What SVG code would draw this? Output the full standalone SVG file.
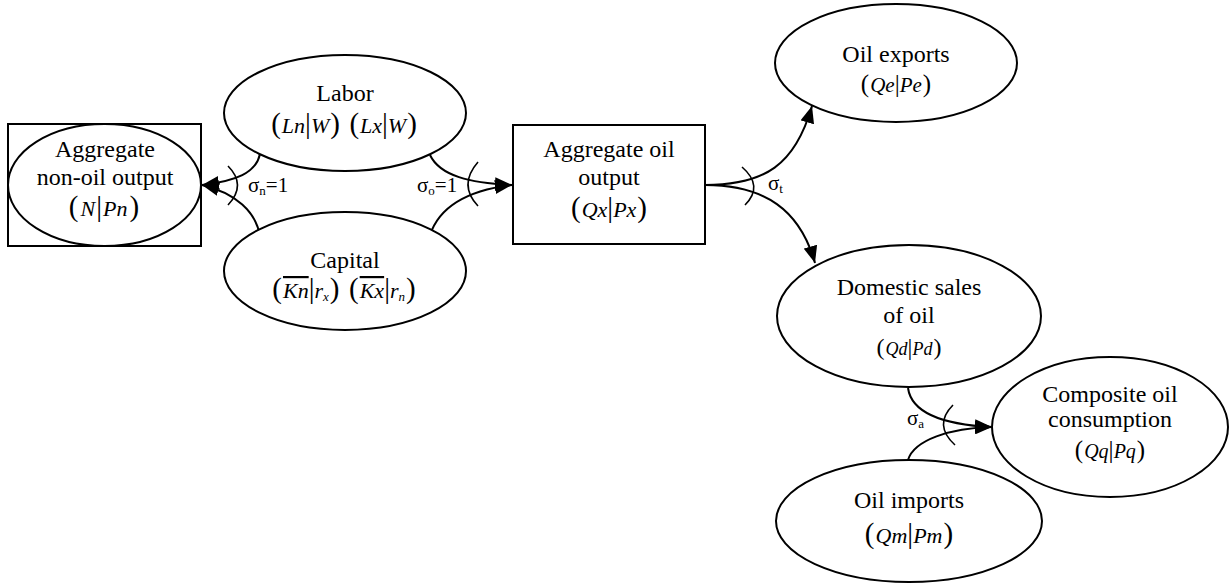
<svg xmlns="http://www.w3.org/2000/svg" width="1230" height="585" viewBox="0 0 1230 585">
<defs>
<marker id="arr" markerUnits="userSpaceOnUse" markerWidth="18" markerHeight="14" refX="17" refY="7" orient="auto">
<path d="M0,0 L17,7 L0,14 Z" fill="#000"/>
</marker>
<style>
.sh{fill:#fff;stroke:#000;stroke-width:2}
.t{font-family:"Liberation Serif","Times New Roman",serif;font-size:24px;fill:#000;text-anchor:middle}
.m{font-family:"Liberation Serif","Times New Roman",serif;font-size:22px;fill:#000;text-anchor:middle}
.i{font-style:italic}
.p{font-size:29px}
.s{font-family:"Liberation Serif","Times New Roman",serif;font-size:21px;fill:#000}
.sub{font-size:13px}
.c{fill:none;stroke:#000;stroke-width:2}
.a{fill:none;stroke:#000;stroke-width:1.6}
.ol{text-decoration:overline}
</style>
</defs>
<rect width="1230" height="585" fill="#fff"/>

<g id="connectors">
<path class="c" d="M260,154 C256,173 236,181 202,185" marker-end="url(#arr)"/>
<path class="c" d="M260,236 C256,212 236,193 202,185" marker-end="url(#arr)"/>
<path class="c" d="M430,155 C440,176 470,183 512,185" marker-end="url(#arr)"/>
<path class="c" d="M430,235 C440,205 470,190 512,185" marker-end="url(#arr)"/>
<path class="c" d="M705,185 C765,185 795,165 812,106" marker-end="url(#arr)"/>
<path class="c" d="M705,185 C765,185 800,210 815,263" marker-end="url(#arr)"/>
<path class="c" d="M908,388 C912,416 950,425 992,427" marker-end="url(#arr)"/>
<path class="c" d="M908,460 C914,440 950,428 992,427" marker-end="url(#arr)"/>
<path class="a" d="M228,166 Q247,185 228,205"/>
<path class="a" d="M478,162 Q458,185 478,206"/>
<path class="a" d="M742,167 Q764,186 745,205"/>
<path class="a" d="M953,405 Q933,425 955,445"/>
<text class="s" x="248" y="192">σ<tspan class="sub" dy="3">n</tspan><tspan dy="-3">=1</tspan></text>
<text class="s" x="417" y="192">σ<tspan class="sub" dy="3">o</tspan><tspan dy="-3">=1</tspan></text>
<text class="s" x="768" y="190">σ<tspan class="sub" dy="3">t</tspan></text>
<text class="s" x="907" y="425">σ<tspan class="sub" dy="3">a</tspan></text>
</g>

<g id="nonoil">
<rect class="sh" x="8" y="124" width="193" height="122"/>
<ellipse class="sh" cx="104.5" cy="185" rx="96.5" ry="61"/>
<text class="t" x="105" y="157">Aggregate</text>
<text class="t" x="105" y="185">non-oil output</text>
<text class="m" x="104" y="216"><tspan class="p">(</tspan><tspan class="i" dx="2">N</tspan><tspan class="p" dx="1">|</tspan><tspan class="i" dx="1">Pn</tspan><tspan class="p" dx="2">)</tspan></text>
</g>

<g id="labor">
<ellipse class="sh" cx="345" cy="113" rx="121" ry="58"/>
<text class="t" x="345" y="101">Labor</text>
<text class="m" x="344" y="133"><tspan class="p">(</tspan><tspan class="i" dx="1">Ln</tspan><tspan class="p">|</tspan><tspan class="i">W</tspan><tspan class="p" dx="1">)</tspan><tspan dx="4"> </tspan><tspan class="p">(</tspan><tspan class="i" dx="1">Lx</tspan><tspan class="p">|</tspan><tspan class="i">W</tspan><tspan class="p" dx="1">)</tspan></text>
</g>

<g id="capital">
<ellipse class="sh" cx="345" cy="271" rx="121" ry="59"/>
<text class="t" x="345" y="268">Capital</text>
<text class="m" x="344" y="298"><tspan class="p">(</tspan><tspan class="i ol" dx="1">Kn</tspan><tspan class="p">|</tspan><tspan class="i">r</tspan><tspan class="i sub" dy="3">x</tspan><tspan class="p" dy="-3" dx="1">)</tspan><tspan dx="4"> </tspan><tspan class="p">(</tspan><tspan class="i ol" dx="1">Kx</tspan><tspan class="p">|</tspan><tspan class="i">r</tspan><tspan class="i sub" dy="3">n</tspan><tspan class="p" dy="-3" dx="1">)</tspan></text>
</g>

<g id="oiloutput">
<rect class="sh" x="513" y="125" width="192" height="119"/>
<text class="t" x="609" y="157">Aggregate oil</text>
<text class="t" x="609" y="185">output</text>
<text class="m" x="609" y="217"><tspan class="p">(</tspan><tspan class="i" dx="1">Qx</tspan><tspan class="p">|</tspan><tspan class="i">Px</tspan><tspan class="p" dx="1">)</tspan></text>
</g>

<g id="exports">
<ellipse class="sh" cx="896" cy="63" rx="121" ry="59"/>
<text class="t" x="896" y="62">Oil exports</text>
<text class="m" x="896" y="92" style="font-size:21px"><tspan style="font-size:25px">(</tspan><tspan class="i" dx="1">Qe</tspan><tspan style="font-size:25px">|</tspan><tspan class="i">Pe</tspan><tspan style="font-size:25px" dx="1">)</tspan></text>
</g>

<g id="domestic">
<ellipse class="sh" cx="909" cy="316" rx="132" ry="71"/>
<text class="t" x="909" y="295">Domestic sales</text>
<text class="t" x="909" y="323">of oil</text>
<text class="m" x="909" y="355" style="font-size:18px"><tspan style="font-size:24px">(</tspan><tspan class="i" dx="1">Qd</tspan><tspan style="font-size:24px">|</tspan><tspan class="i">Pd</tspan><tspan style="font-size:24px" dx="1">)</tspan></text>
</g>

<g id="composite">
<ellipse class="sh" cx="1110" cy="427" rx="118" ry="70"/>
<text class="t" x="1110" y="402">Composite oil</text>
<text class="t" x="1110" y="427">consumption</text>
<text class="m" x="1110" y="458" style="font-size:20px"><tspan style="font-size:25px">(</tspan><tspan class="i" dx="1">Qq</tspan><tspan style="font-size:25px">|</tspan><tspan class="i">Pq</tspan><tspan style="font-size:25px" dx="1">)</tspan></text>
</g>

<g id="imports">
<ellipse class="sh" cx="909" cy="521" rx="133" ry="61"/>
<text class="t" x="909" y="508">Oil imports</text>
<text class="m" x="909" y="543"><tspan class="p">(</tspan><tspan class="i" dx="1">Qm</tspan><tspan class="p">|</tspan><tspan class="i">Pm</tspan><tspan class="p" dx="1">)</tspan></text>
</g>
</svg>
